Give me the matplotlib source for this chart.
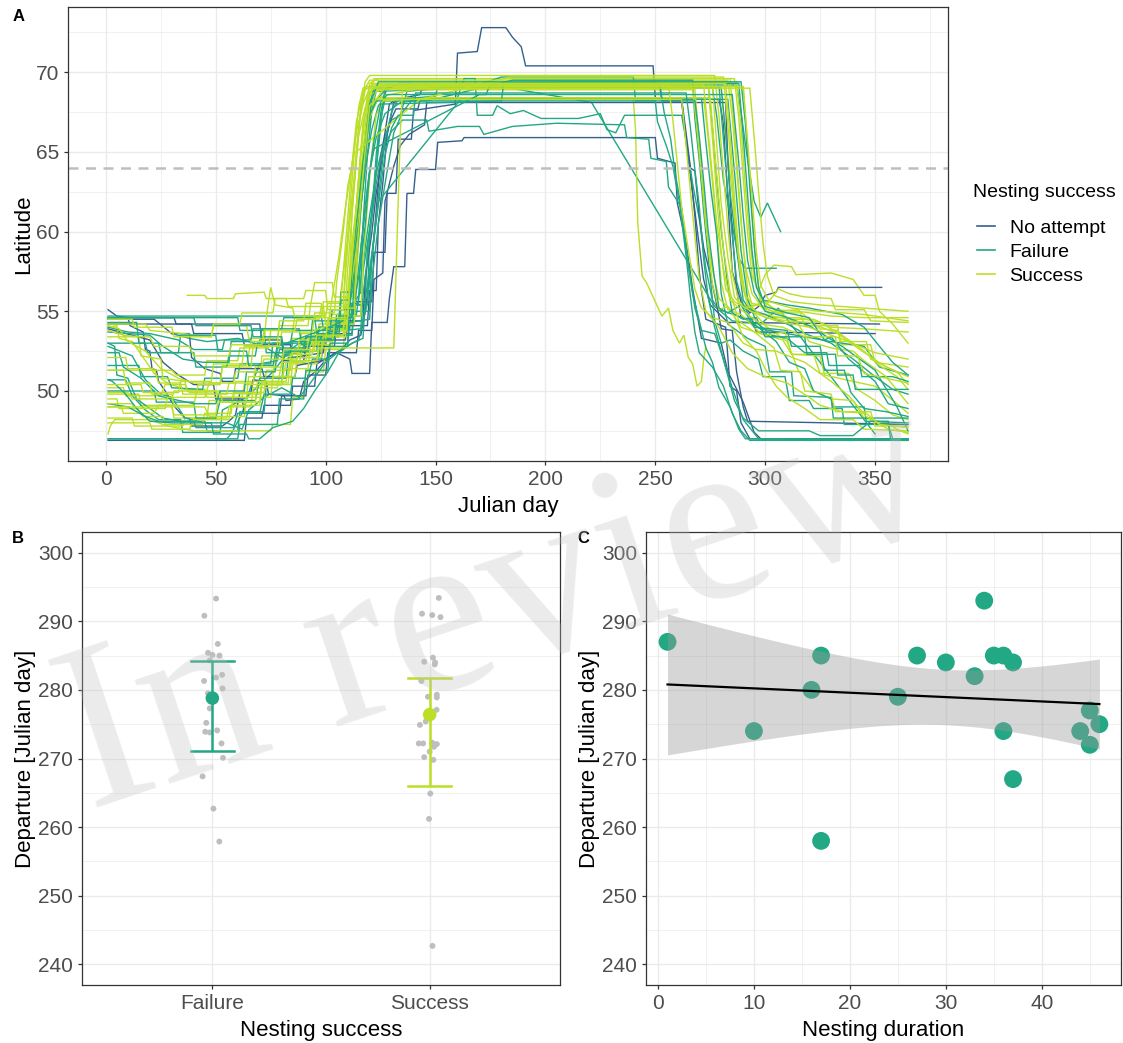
import numpy as np
import matplotlib.pyplot as plt
from matplotlib.lines import Line2D

plt.rcParams['font.family'] = ['Liberation Sans', 'DejaVu Sans']

group_names = ['No attempt', 'Failure', 'Success']
group_colors = ['#35608D', '#22A884', '#BBDF27']

# daily latitude tracks, (julian day, latitude) per bird
no_attempt_tracks = [
    [(1, 54.2), (39, 54.2), (40, 53.6), (62, 53.6), (63, 52.9), (84, 52.9), (85, 52.1), (99, 52.4), (100, 53.6), (112, 53.6), (113, 55.6), (121, 55.6), (122, 58.7), (127, 58.7), (128, 62.4), (132, 62.4), (133, 65.8), (139, 65.8), (140, 67.6), (159, 68.0), (160, 71.2), (169, 71.3), (171, 72.8), (182, 72.8), (185, 72.2), (189, 71.6), (191, 70.4), (249, 70.4), (250, 68.4), (262, 68.3), (263, 66.8), (266, 63.5), (269, 60.2), (272, 57.0), (275, 55.4), (283, 54.3), (352, 54.2)],
    [(1, 46.9), (63, 46.9), (64, 48.3), (71, 48.3), (72, 49.1), (84, 49.1), (85, 50.3), (95, 50.3), (96, 51.7), (105, 52.4), (111, 52.0), (112, 51.1), (120, 51.1), (121, 54.3), (128, 54.3), (129, 55.8), (131, 57.8), (136, 57.8), (137, 62.4), (140, 62.4), (141, 63.9), (150, 63.9), (151, 65.6), (162, 65.7), (163, 65.9), (250, 65.9), (251, 64.6), (259, 64.3), (260, 61.8), (264, 59.3), (267, 56.4), (271, 53.3), (280, 53.0), (283, 51.2), (290, 49.3), (295, 47.4), (298, 47.0), (365, 47.0)],
    [(1, 55.1), (5, 54.7), (10, 54.6), (11, 54.1), (17, 53.7), (18, 52.6), (20, 52.5), (21, 51.4), (23, 51.3), (24, 50.6), (27, 50.0), (30, 49.3), (32, 48.9), (36, 48.3), (38, 48.3), (39, 47.8), (53, 47.8), (56, 48.1), (59, 48.5), (61, 49.9), (66, 49.9), (67, 50.7), (73, 50.6), (74, 49.8), (81, 49.7), (82, 49.4), (88, 49.5), (90, 50.6), (96, 51.3), (101, 52.1), (107, 52.6), (111, 53.2), (116, 53.5), (118, 55.0), (121, 58.2), (123, 61.3), (125, 64.6), (127, 66.2), (129, 68.0), (132, 68.3), (279, 68.3), (281, 66.8), (283, 62.0), (285, 57.5), (289, 55.6), (293, 54.9), (297, 55.3), (300, 56.0), (305, 56.2), (306, 56.5), (353, 56.5)],
    [(1, 54.6), (31, 54.6), (32, 54.2), (70, 54.2), (71, 53.2), (80, 53.2), (81, 51.9), (90, 51.9), (91, 52.8), (104, 52.8), (105, 54.1), (119, 54.1), (120, 56.3), (123, 56.3), (124, 60.5), (126, 63.0), (128, 66.1), (131, 68.1), (136, 68.4), (143, 68.6), (144, 69.1), (252, 69.1), (253, 68.2), (262, 68.2), (264, 65.8), (266, 63.8), (268, 61.0), (270, 57.5), (271, 56.3), (273, 54.5), (282, 54.0), (284, 50.3), (287, 50.0), (289, 48.0), (293, 47.0), (365, 47.0)],
    [(1, 53.9), (12, 53.5), (20, 53.2), (26, 51.8), (33, 51.0), (40, 50.4), (49, 50.4), (50, 49.5), (62, 49.5), (63, 48.6), (79, 48.6), (80, 49.7), (91, 49.7), (92, 51.0), (100, 51.0), (101, 52.4), (114, 52.4), (115, 53.8), (121, 53.8), (122, 57.0), (126, 57.4), (127, 61.9), (131, 64.1), (134, 65.4), (138, 66.1), (145, 66.7), (146, 68.1), (282, 68.1), (283, 64.5), (285, 60.1), (287, 56.4), (289, 54.6), (294, 54.5), (296, 53.7), (350, 53.6)],
    [(1, 54.5), (22, 54.5), (30, 53.6), (38, 53.6), (39, 52.1), (45, 51.4), (52, 51.1), (53, 50.6), (58, 50.6), (59, 51.4), (71, 51.4), (72, 50.9), (86, 50.9), (87, 51.6), (98, 51.9), (99, 53.2), (109, 53.2), (110, 54.4), (117, 54.4), (118, 57.1), (121, 59.9), (123, 62.4), (126, 64.8), (129, 66.8), (132, 67.7), (142, 67.7), (143, 68.3), (262, 68.3), (264, 66.2), (266, 64.0), (268, 63.8), (270, 61.0), (272, 59.0), (275, 57.3), (278, 55.4), (280, 53.9), (285, 53.8), (287, 51.2), (290, 49.0), (292, 48.1), (365, 47.9)],
]

failure_tracks = [
    [(1, 47.0), (55, 47.0), (57, 47.3), (62, 48.6), (66, 50.3), (70, 51.7), (78, 51.9), (79, 52.6), (90, 52.6), (91, 53.3), (104, 53.3), (105, 54.8), (114, 54.8), (116, 57.0), (120, 61.0), (123, 63.6), (127, 66.0), (130, 67.0), (134, 67.3), (137, 68.8), (160, 69.1), (172, 69.3), (221, 68.1), (277, 55.3), (285, 54.4), (298, 54.2), (306, 55.2), (350, 47.3)],
    [(1, 53.0), (4, 52.8), (5, 51.0), (10, 50.8), (14, 49.5), (20, 48.9), (26, 48.3), (34, 48.1), (45, 48.1), (46, 47.5), (60, 47.5), (61, 48.7), (72, 48.7), (73, 50.4), (80, 50.4), (81, 52.3), (96, 52.5), (97, 54.0), (108, 54.0), (109, 55.4), (118, 55.4), (119, 59.0), (122, 62.5), (124, 65.2), (126, 67.9), (128, 69.2), (287, 69.2), (289, 67.5), (292, 64.5), (295, 61.9), (298, 60.9), (301, 61.8), (304, 60.9), (307, 60.0)],
    [(1, 50.7), (9, 50.7), (12, 49.7), (18, 48.8), (24, 48.2), (34, 48.2), (35, 47.4), (52, 47.4), (53, 48.8), (64, 49.6), (76, 51.2), (84, 52.6), (92, 53.4), (103, 53.6), (110, 54.9), (116, 56.2), (117, 60.5), (119, 64.8), (121, 67.5), (124, 68.4), (128, 69.0), (276, 69.0), (278, 67.2), (281, 63.2), (285, 60.4), (288, 58.3), (291, 57.7), (305, 57.7)],
    [(1, 54.7), (98, 54.7), (99, 53.9), (111, 53.9), (112, 55.4), (119, 55.4), (120, 59.8), (123, 63.0), (126, 65.2), (130, 66.3), (135, 67.0), (146, 67.0), (147, 66.3), (160, 66.6), (170, 66.6), (172, 66.1), (185, 66.6), (205, 66.8), (236, 66.7), (237, 65.9), (247, 65.8), (248, 64.6), (255, 64.4), (256, 62.8), (262, 61.5), (265, 58.0), (268, 55.2), (271, 53.8), (277, 53.6), (280, 52.4), (285, 50.2), (290, 48.2), (297, 47.0), (365, 46.9)],
    [(30, 53.6), (38, 53.3), (46, 53.1), (60, 53.3), (72, 52.8), (80, 52.1), (88, 52.5), (96, 53.1), (104, 53.9), (113, 54.3), (114, 56.5), (117, 60.1), (120, 63.8), (123, 65.9), (127, 67.4), (134, 68.1), (150, 68.4), (160, 68.4), (163, 69.6), (168, 69.6), (169, 67.3), (176, 67.3), (178, 67.9), (184, 67.4), (190, 67.6), (198, 67.1), (215, 67.1), (225, 67.4), (228, 66.4), (232, 66.2), (236, 67.3), (262, 67.3), (264, 65.7), (267, 63.0), (270, 60.8), (273, 57.7), (276, 55.7), (279, 55.1), (290, 54.6), (298, 53.9), (330, 53.1), (345, 52.8), (352, 51.5), (365, 51.0)],
    [(1, 54.6), (60, 54.6), (61, 53.8), (72, 53.8), (73, 52.4), (84, 52.4), (85, 53.1), (96, 53.1), (97, 54.0), (110, 54.0), (111, 55.3), (114, 58.6), (116, 62.2), (118, 65.6), (120, 68.0), (122, 69.0), (280, 69.0), (282, 66.2), (284, 62.5), (287, 58.9), (290, 55.7), (293, 55.1), (300, 54.8), (310, 54.2), (318, 53.6), (330, 53.0), (340, 52.0), (350, 50.9), (358, 50.1), (365, 49.8)],
    [(1, 52.8), (12, 52.2), (18, 50.7), (25, 49.8), (30, 49.6), (36, 48.3), (45, 48.0), (55, 48.0), (62, 47.6), (65, 48.8), (72, 49.6), (80, 50.2), (88, 49.6), (92, 50.3), (100, 51.8), (108, 52.7), (115, 53.2), (119, 55.5), (121, 58.3), (124, 61.9), (162, 68.4), (271, 68.4), (273, 65.6), (275, 63.0), (278, 59.7), (280, 56.1), (283, 54.2), (292, 53.3), (300, 52.8), (302, 51.2), (312, 51.2), (313, 49.7), (330, 49.6), (331, 48.3), (355, 48.3), (365, 48.3)],
    [(1, 51.6), (15, 51.6), (16, 50.9), (28, 50.9), (30, 50.2), (44, 50.1), (45, 50.8), (60, 50.8), (61, 51.7), (75, 51.7), (76, 53.0), (93, 53.0), (94, 54.4), (106, 54.4), (107, 56.2), (113, 56.2), (114, 59.2), (117, 62.7), (119, 66.0), (121, 67.7), (123, 68.8), (165, 69.0), (180, 69.7), (240, 69.7), (241, 68.2), (250, 68.2), (251, 66.9), (255, 65.4), (258, 64.1), (261, 61.8), (264, 58.5), (266, 55.9), (268, 53.7), (270, 52.4), (276, 51.5), (281, 50.3), (285, 48.6), (289, 47.5), (293, 46.9), (365, 46.9)],
    [(1, 53.7), (20, 53.5), (26, 52.8), (35, 52.0), (44, 51.8), (56, 51.8), (57, 53.1), (70, 53.1), (71, 53.9), (88, 53.9), (89, 52.9), (100, 52.9), (101, 53.7), (116, 53.9), (117, 56.0), (120, 59.5), (123, 64.0), (125, 67.0), (127, 68.3), (283, 68.3), (286, 63.8), (289, 58.8), (292, 55.8), (296, 54.3), (303, 53.5), (310, 53.3), (318, 52.4), (328, 52.4), (329, 51.6), (343, 51.6), (344, 50.9), (358, 50.9), (365, 50.6)],
    [(1, 50.0), (22, 50.0), (23, 49.3), (40, 49.3), (41, 48.3), (50, 48.3), (52, 49.4), (68, 49.4), (70, 50.8), (82, 50.8), (83, 52.1), (97, 52.1), (98, 53.5), (112, 53.5), (113, 55.0), (120, 55.0), (121, 58.3), (124, 62.2), (127, 65.7), (130, 67.5), (133, 68.3), (150, 68.5), (151, 69.1), (279, 69.1), (281, 65.8), (283, 62.5), (285, 59.8), (287, 56.9), (290, 55.4), (295, 54.2), (305, 53.1), (311, 51.8), (318, 51.4), (322, 50.0), (330, 49.5), (331, 49.0), (345, 49.0), (346, 48.1), (365, 48.0)],
    [(1, 47.0), (60, 47.0), (61, 47.9), (78, 47.9), (79, 49.5), (90, 49.5), (91, 51.3), (101, 51.3), (102, 52.8), (110, 52.8), (111, 54.3), (120, 54.5), (121, 56.8), (124, 60.5), (128, 63.8), (131, 66.2), (135, 67.5), (139, 68.2), (146, 68.2), (185, 69.5), (267, 69.5), (268, 67.1), (270, 64.5), (272, 61.3), (275, 57.1), (277, 54.4), (280, 53.0), (284, 53.2), (290, 52.5), (297, 52.0), (299, 50.9), (309, 50.9), (311, 49.4), (320, 49.4), (322, 48.9), (335, 48.9), (336, 47.9), (356, 47.9), (358, 47.0), (365, 47.0)],
    [(1, 54.0), (10, 53.7), (20, 53.6), (33, 53.2), (40, 52.6), (53, 52.6), (54, 53.2), (66, 53.2), (67, 53.9), (80, 53.9), (81, 54.6), (95, 54.6), (96, 53.6), (105, 53.6), (106, 54.7), (116, 54.7), (117, 57.5), (121, 61.0), (123, 64.8), (125, 67.4), (127, 68.9), (133, 69.3), (288, 69.3), (290, 66.0), (292, 62.3), (294, 58.8), (296, 56.5), (299, 55.7), (310, 55.4), (320, 55.2), (335, 54.8), (345, 54.0), (352, 52.8), (358, 51.8), (365, 51.0)],
    [(1, 54.3), (14, 54.3), (15, 53.0), (24, 53.0), (25, 52.4), (40, 52.4), (41, 51.5), (55, 51.5), (56, 52.2), (68, 52.2), (69, 53.0), (84, 53.0), (85, 53.8), (102, 53.8), (103, 55.1), (111, 55.1), (112, 57.6), (115, 60.5), (118, 63.9), (121, 66.4), (124, 67.9), (128, 68.6), (173, 68.6), (175, 69.3), (274, 69.3), (276, 66.5), (278, 63.2), (280, 60.1), (283, 56.6), (285, 54.9), (290, 54.5), (296, 54.6), (300, 53.4), (318, 53.4), (319, 52.3), (332, 52.3), (333, 51.0), (340, 51.0), (341, 50.1), (365, 50.1)],
    [(1, 52.4), (6, 52.4), (8, 51.5), (16, 50.8), (24, 49.7), (30, 49.5), (40, 49.2), (50, 49.2), (52, 50.0), (63, 50.0), (64, 51.2), (77, 51.2), (78, 52.7), (90, 52.7), (91, 53.4), (106, 53.4), (107, 55.7), (111, 55.7), (112, 58.1), (115, 61.7), (117, 64.4), (120, 67.3), (123, 68.2), (268, 68.2), (270, 66.0), (272, 63.2), (274, 60.1), (277, 57.0), (279, 55.2), (283, 54.9), (289, 55.4), (295, 54.0), (310, 53.8), (312, 52.8), (325, 52.8), (327, 51.3), (336, 51.3), (339, 49.9), (345, 48.9), (355, 48.7), (365, 48.4)],
    [(1, 53.0), (18, 53.0), (19, 52.4), (33, 52.4), (34, 53.5), (50, 53.5), (51, 52.5), (64, 52.5), (65, 51.6), (76, 51.6), (78, 52.8), (90, 53.4), (100, 53.9), (108, 54.4), (112, 54.7), (114, 56.3), (116, 58.0), (118, 60.4), (120, 63.7), (122, 65.2), (170, 68.6), (285, 68.6), (288, 64.3), (290, 61.0), (292, 58.2), (295, 56.2), (300, 55.0), (308, 54.7), (320, 54.1), (335, 52.8), (350, 51.3), (360, 49.0), (365, 47.5)],
    [(1, 49.2), (10, 49.0), (18, 48.4), (24, 48.1), (40, 48.1), (41, 47.7), (58, 47.7), (60, 48.6), (70, 48.6), (72, 49.8), (84, 49.8), (85, 50.8), (92, 50.8), (94, 52.0), (101, 52.0), (102, 53.0), (110, 53.0), (111, 55.5), (115, 55.5), (116, 59.0), (119, 62.8), (122, 65.7), (125, 68.0), (180, 68.2), (181, 69.3), (252, 69.3), (254, 67.5), (257, 65.8), (259, 63.7), (262, 61.4), (264, 58.7), (267, 56.1), (270, 54.4), (273, 52.7), (276, 51.8), (279, 50.2), (284, 49.0), (288, 47.6), (291, 47.0), (365, 47.0)],
    [(1, 54.6), (40, 54.6), (41, 54.1), (66, 54.1), (67, 53.4), (80, 53.4), (81, 52.5), (92, 52.5), (93, 53.2), (104, 53.2), (105, 54.6), (112, 54.6), (113, 56.8), (115, 59.7), (117, 63.1), (119, 66.2), (121, 68.3), (124, 69.4), (289, 69.4), (291, 66.8), (293, 62.8), (295, 59.1), (297, 56.5), (300, 55.3), (310, 54.9), (320, 54.6), (327, 53.2), (330, 53.4), (338, 52.0), (350, 50.6), (356, 49.2), (365, 48.9)],
    [(1, 50.7), (3, 50.6), (9, 49.8), (14, 48.9), (20, 48.1), (30, 48.0), (48, 48.0), (49, 47.3), (64, 47.3), (65, 47.0), (70, 47.0), (76, 47.7), (85, 48.1), (90, 48.9), (95, 50.0), (101, 51.2), (106, 52.4), (112, 53.0), (117, 53.3), (118, 55.7), (121, 58.6), (124, 61.7), (127, 64.8), (130, 66.5), (133, 67.3), (140, 67.3), (141, 68.7), (264, 68.7), (266, 66.5), (268, 63.9), (270, 61.6), (272, 58.3), (274, 55.9), (277, 54.0), (281, 52.0), (286, 49.4), (290, 48.3), (297, 47.5), (320, 47.5), (325, 47.2), (340, 47.2), (348, 48.1), (356, 48.1), (357, 47.0), (365, 47.0)],
]

success_tracks = [
    [(1, 49.8), (15, 49.8), (16, 49.1), (30, 49.1), (31, 48.3), (46, 48.3), (47, 49.4), (58, 49.4), (59, 50.6), (70, 50.6), (71, 52.2), (84, 52.2), (85, 53.3), (96, 53.3), (97, 54.2), (106, 54.2), (107, 56.3), (110, 59.5), (113, 63.1), (115, 66.0), (118, 67.8), (121, 68.3), (240, 68.3), (241, 66.4), (242, 60.6), (244, 57.2), (246, 56.8), (250, 55.6), (253, 54.7), (256, 55.2), (258, 53.8), (261, 53.0), (263, 53.5), (265, 52.1), (267, 51.7), (269, 50.3), (271, 50.6), (272, 52.0), (273, 52.8)],
    [(37, 56.0), (45, 56.0), (46, 55.8), (58, 55.8), (59, 56.1), (72, 56.2), (73, 55.8), (82, 55.8), (83, 55.3), (93, 55.3), (95, 56.8), (103, 56.8), (104, 55.9), (112, 55.9), (114, 58.5), (116, 62.6), (118, 66.1), (120, 68.4), (122, 69.6), (286, 69.6), (288, 67.1), (290, 63.4), (292, 59.9), (294, 57.2), (297, 56.3), (300, 57.3), (304, 57.9), (312, 57.8), (314, 57.3), (330, 57.4), (340, 57.0), (345, 56.0), (350, 56.0), (352, 55.0), (358, 54.2), (365, 53.0)],
    [(1, 47.3), (2, 47.8), (4, 48.2), (20, 48.2), (28, 47.8), (40, 47.5), (75, 47.5), (76, 47.9), (84, 47.9), (85, 49.6), (90, 49.6), (91, 51.2), (99, 51.2), (100, 52.6), (108, 52.6), (109, 54.5), (112, 56.6), (114, 60.2), (116, 63.5), (118, 66.6), (120, 68.6), (123, 69.0), (280, 69.0), (282, 66.0), (285, 62.4), (287, 59.2), (290, 56.5), (293, 55.3), (300, 55.6), (305, 55.0), (315, 55.1), (325, 53.9), (333, 53.8), (335, 52.9), (348, 52.9), (350, 51.8), (365, 51.5)],
    [(1, 50.2), (8, 50.2), (9, 49.7), (25, 49.7), (27, 50.4), (36, 50.4), (38, 49.9), (70, 49.8), (71, 50.4), (84, 50.4), (85, 51.7), (96, 51.7), (97, 53.4), (106, 53.4), (107, 55.1), (111, 55.1), (112, 58.2), (114, 61.7), (116, 64.9), (118, 67.4), (120, 69.3), (124, 69.6), (284, 69.6), (286, 66.4), (288, 62.7), (290, 59.0), (292, 56.4), (295, 54.9), (300, 54.1), (310, 53.1), (315, 51.3), (322, 50.0), (330, 49.5), (340, 49.4), (345, 48.3), (355, 48.0), (360, 47.6), (365, 47.3)],
    [(1, 54.0), (5, 54.1), (6, 53.3), (12, 53.1), (16, 52.3), (22, 51.1), (28, 50.5), (36, 50.1), (45, 50.1), (46, 49.6), (64, 49.6), (65, 50.9), (76, 50.9), (77, 52.4), (88, 52.4), (89, 53.6), (101, 53.6), (102, 54.8), (110, 54.8), (111, 57.5), (112, 61.2), (114, 64.7), (116, 67.8), (118, 69.4), (120, 69.8), (277, 69.8), (279, 67.2), (281, 63.7), (283, 60.3), (285, 57.4), (288, 55.6), (295, 55.0), (305, 54.6), (315, 54.6), (325, 54.3), (335, 53.5), (345, 52.5), (352, 51.6), (360, 50.9), (365, 50.1)],
    [(1, 48.3), (12, 48.3), (13, 47.8), (35, 47.8), (36, 48.3), (55, 48.3), (56, 49.0), (66, 49.0), (67, 50.2), (78, 50.2), (80, 51.8), (88, 51.8), (90, 53.0), (100, 53.0), (101, 54.3), (109, 54.3), (110, 56.1), (112, 59.3), (115, 62.8), (118, 65.6), (121, 67.6), (124, 68.4), (272, 68.4), (274, 65.9), (276, 63.1), (278, 60.0), (280, 56.8), (283, 55.1), (289, 54.8), (298, 53.6), (308, 53.2), (312, 52.3), (322, 52.3), (325, 51.1), (338, 51.1), (342, 50.1), (350, 49.4), (358, 48.5), (365, 48.2)],
    [(1, 51.3), (30, 51.3), (32, 51.0), (45, 51.0), (46, 51.9), (60, 51.9), (61, 52.7), (74, 52.7), (75, 53.8), (85, 53.8), (86, 54.7), (100, 54.7), (101, 55.5), (108, 55.5), (109, 57.2), (111, 60.7), (113, 63.5), (115, 66.6), (118, 68.9), (122, 69.2), (276, 69.2), (278, 65.4), (280, 61.7), (283, 58.4), (286, 55.9), (290, 55.2), (297, 55.4), (305, 54.9), (316, 54.9), (318, 54.1), (333, 54.1), (334, 53.1), (346, 53.1), (348, 52.0), (360, 51.2), (365, 50.4)],
    [(1, 49.5), (5, 49.5), (6, 48.9), (14, 48.9), (17, 48.4), (26, 48.4), (27, 47.9), (44, 47.9), (45, 48.6), (57, 48.6), (58, 49.9), (72, 49.9), (73, 51.3), (84, 51.3), (85, 52.5), (98, 52.5), (99, 53.9), (108, 53.9), (109, 55.8), (113, 55.8), (114, 59.7), (116, 63.0), (118, 65.8), (121, 67.9), (126, 68.9), (135, 69.1), (290, 69.1), (292, 65.4), (294, 61.1), (296, 57.7), (298, 55.3), (303, 54.7), (312, 54.5), (322, 54.5), (330, 54.0), (345, 53.9), (355, 53.8), (365, 53.7)],
    [(1, 54.2), (18, 54.2), (20, 53.8), (35, 53.6), (48, 53.4), (49, 54.1), (64, 54.1), (65, 53.3), (78, 53.3), (79, 54.1), (92, 54.1), (93, 55.3), (99, 55.3), (100, 54.2), (110, 54.2), (111, 56.0), (114, 59.2), (116, 62.5), (118, 65.4), (120, 67.1), (123, 68.2), (126, 68.5), (150, 69.2), (210, 69.4), (287, 69.4), (289, 66.6), (291, 62.8), (293, 59.5), (295, 57.0), (298, 55.7), (305, 55.1), (315, 55.0), (330, 54.7), (345, 54.6), (365, 54.6)],
    [(1, 49.0), (7, 49.0), (8, 48.6), (22, 48.6), (24, 49.1), (40, 49.1), (42, 50.4), (52, 50.4), (53, 51.6), (64, 51.6), (66, 53.1), (72, 53.1), (73, 54.6), (75, 56.5), (77, 55.4), (85, 55.2), (86, 54.6), (98, 54.6), (99, 55.6), (107, 55.6), (108, 57.4), (110, 60.8), (112, 64.2), (114, 66.9), (117, 68.7), (120, 69.5), (283, 69.5), (285, 67.2), (287, 64.0), (289, 60.6), (291, 57.8), (294, 56.1), (299, 55.2), (308, 54.8), (315, 54.2), (320, 53.1), (330, 52.7), (340, 52.5), (345, 51.9), (355, 50.9), (365, 49.2)],
    [(1, 49.9), (10, 49.9), (12, 49.5), (30, 49.5), (31, 50.0), (50, 50.0), (51, 49.6), (62, 49.6), (63, 50.4), (80, 50.4), (81, 51.4), (92, 51.4), (93, 52.9), (103, 52.9), (104, 53.8), (110, 53.8), (111, 56.2), (113, 59.6), (115, 63.4), (117, 66.8), (120, 68.6), (127, 69.0), (267, 69.0), (269, 66.4), (271, 63.5), (273, 60.4), (276, 57.6), (279, 55.8), (285, 55.0), (290, 53.4), (296, 52.5), (300, 51.4), (305, 50.3), (310, 49.6), (318, 48.9), (325, 48.2), (340, 48.2), (345, 47.6), (365, 47.5)],
    [(1, 53.8), (8, 53.5), (15, 53.4), (16, 52.2), (25, 52.0), (26, 50.8), (36, 50.6), (37, 50.0), (52, 50.0), (53, 49.3), (70, 49.3), (71, 50.6), (80, 50.6), (82, 51.8), (91, 51.8), (92, 53.1), (103, 53.1), (104, 54.2), (113, 54.2), (114, 57.1), (116, 61.3), (118, 64.6), (120, 67.5), (123, 68.9), (268, 68.9), (270, 65.7), (272, 62.4), (274, 59.2), (276, 56.7), (279, 55.1), (283, 55.3), (289, 54.0), (300, 53.5), (309, 53.7), (312, 52.3), (325, 52.2), (327, 51.0), (340, 50.6), (350, 50.3), (360, 49.2), (365, 48.6)],
    [(1, 48.0), (20, 48.0), (21, 47.6), (38, 47.6), (40, 48.2), (56, 48.2), (57, 49.1), (70, 49.1), (71, 50.5), (83, 50.5), (84, 52.3), (94, 52.3), (95, 53.8), (101, 54.1), (103, 55.9), (106, 58.4), (109, 61.5), (112, 64.2), (114, 66.3), (117, 68.0), (121, 69.3), (282, 69.3), (284, 66.1), (286, 62.2), (288, 58.6), (291, 56.0), (294, 55.5), (300, 55.3), (306, 56.4), (311, 56.1), (318, 55.9), (330, 55.8), (332, 55.1), (345, 55.1), (348, 54.4), (365, 54.3)],
    [(1, 51.3), (8, 51.3), (9, 50.5), (20, 50.5), (21, 49.8), (30, 49.8), (31, 49.0), (45, 49.0), (47, 48.4), (63, 48.4), (64, 49.6), (75, 49.6), (76, 50.9), (86, 50.9), (87, 52.1), (98, 52.1), (99, 53.4), (109, 53.4), (110, 54.7), (116, 54.7), (117, 58.0), (119, 61.6), (121, 64.9), (123, 67.3), (126, 68.2), (150, 68.4), (275, 68.4), (277, 65.1), (279, 61.9), (281, 58.9), (284, 56.2), (288, 54.4), (296, 53.6), (304, 52.7), (307, 51.3), (316, 51.2), (318, 50.0), (330, 49.8), (332, 48.7), (348, 48.7), (350, 47.8), (365, 47.8)],
    [(1, 54.1), (6, 53.9), (10, 53.1), (18, 52.5), (25, 51.4), (33, 50.8), (40, 50.5), (52, 50.5), (53, 51.5), (66, 51.5), (67, 52.8), (79, 52.8), (80, 53.7), (94, 53.7), (95, 54.9), (104, 54.9), (105, 56.8), (108, 60.0), (110, 62.8), (113, 64.9), (143, 68.3), (184, 69.7), (281, 69.7), (283, 66.7), (285, 63.1), (287, 59.6), (289, 56.9), (292, 55.4), (300, 54.6), (310, 54.4), (320, 54.3), (333, 53.6), (343, 52.6), (355, 51.5), (365, 50.9)],
    [(1, 49.2), (12, 49.2), (13, 48.9), (27, 48.9), (28, 49.6), (45, 49.6), (47, 50.5), (58, 50.5), (59, 51.2), (70, 51.2), (72, 52.0), (87, 52.0), (88, 53.2), (100, 53.2), (101, 54.5), (110, 54.5), (111, 56.5), (113, 59.9), (115, 63.2), (117, 66.4), (119, 68.6), (123, 69.2), (256, 69.2), (258, 67.0), (260, 64.3), (262, 61.5), (265, 58.9), (268, 56.4), (271, 55.2), (276, 54.6), (283, 54.3), (290, 53.0), (296, 52.6), (305, 52.5), (318, 51.8), (330, 50.6), (338, 49.7), (346, 48.4), (356, 47.6), (365, 47.4)],
    [(1, 53.4), (20, 53.4), (22, 52.8), (38, 52.8), (40, 52.2), (56, 52.2), (57, 52.9), (71, 52.9), (72, 53.8), (86, 53.8), (87, 54.5), (97, 54.5), (98, 55.3), (109, 55.3), (110, 57.6), (112, 61.0), (114, 64.5), (116, 67.7), (118, 69.1), (290, 69.1), (292, 65.6), (294, 62.3), (296, 58.7), (298, 56.6), (302, 55.6), (312, 55.2), (325, 55.0), (345, 54.8), (360, 54.5), (365, 54.4)],
    [(1, 52.1), (9, 52.1), (10, 51.4), (22, 51.4), (24, 50.5), (34, 50.5), (35, 49.8), (55, 49.8), (56, 50.5), (67, 50.5), (68, 51.5), (80, 51.5), (81, 52.6), (95, 52.6), (96, 53.5), (108, 53.5), (109, 55.2), (113, 55.2), (114, 58.3), (116, 61.9), (118, 65.1), (120, 67.9), (123, 68.3), (262, 68.3), (264, 65.4), (266, 62.5), (268, 59.7), (270, 57.1), (273, 55.0), (279, 54.0), (285, 52.4), (292, 51.4), (300, 50.9), (310, 50.5), (320, 49.6), (325, 49.1), (335, 48.7), (346, 48.6), (352, 47.9), (365, 47.7)],
    [(1, 50.4), (16, 50.4), (17, 49.9), (33, 49.9), (34, 50.6), (48, 50.6), (49, 51.7), (62, 51.7), (63, 52.8), (78, 52.8), (79, 54.4), (90, 54.4), (91, 55.5), (98, 55.5), (99, 54.6), (110, 54.6), (111, 56.6), (113, 60.1), (115, 63.0), (117, 66.5), (120, 68.8), (125, 69.2), (272, 69.2), (274, 66.3), (276, 63.5), (278, 60.5), (281, 57.7), (284, 55.7), (290, 55.0), (298, 54.2), (308, 54.0), (318, 53.4), (332, 53.4), (333, 52.2), (342, 52.2), (345, 51.1), (355, 50.8), (365, 50.5)],
    [(1, 54.5), (12, 54.5), (13, 54.0), (30, 54.0), (31, 53.4), (48, 53.4), (49, 54.2), (61, 54.2), (62, 54.9), (76, 54.9), (77, 55.8), (90, 55.8), (91, 56.3), (100, 56.3), (101, 55.1), (108, 55.1), (109, 57.9), (111, 61.4), (113, 64.9), (115, 67.8), (117, 69.0), (293, 69.0), (295, 65.9), (297, 62.5), (299, 59.3), (301, 57.2), (304, 56.0), (312, 55.6), (325, 55.4), (345, 55.2), (365, 55.0)],
    [(1, 49.0), (30, 49.0), (31, 48.5), (50, 48.5), (51, 49.3), (68, 49.3), (69, 50.6), (82, 50.6), (84, 51.9), (96, 51.9), (97, 52.7), (131, 52.7), (132, 57.2), (133, 61.8), (134, 66.3), (135, 69.0), (140, 69.3), (274, 69.3), (276, 65.9), (278, 62.1), (280, 58.6), (282, 56.4), (286, 55.6), (295, 54.9), (305, 54.4), (320, 54.0), (336, 53.2), (350, 52.4), (365, 52.0)],
]

breeding_lat = 64

# departure day by nesting outcome
outcome_labels = ['Failure', 'Success']
failure_departure = [293.3, 290.8, 286.7, 285.4, 285.1, 285.0, 284.3, 282.2, 281.8, 281.3, 280.2,
                     279.5, 277.3, 275.2, 274.1, 273.9, 273.8, 272.2, 270.1, 267.4, 262.7, 257.9]
failure_jitter = [0.017, -0.037, 0.025, -0.020, 0.0, 0.033, -0.012, 0.045, 0.017, -0.038, 0.047,
                  -0.020, -0.012, -0.028, 0.022, -0.033, -0.012, 0.042, 0.049, -0.045, 0.005, 0.032]
success_departure = [293.4, 291.1, 290.9, 290.6, 284.7, 284.1, 284.0, 283.7, 281.3, 279.0, 279.3, 278.9, 277.1,
                     275.4, 274.9, 272.2, 272.2, 272.3, 272.1, 271.7, 271.0, 270.2, 269.8, 264.9, 261.2, 242.7]
success_jitter = [0.042, -0.035, 0.012, 0.050, 0.015, -0.025, 0.025, 0.023, -0.038, -0.008, 0.033, 0.033, 0.032,
                  -0.018, -0.045, -0.050, -0.030, 0.012, 0.033, 0.020, 0.0, -0.025, 0.017, 0.003, -0.003, 0.013]
outcome_mean = [278.8, 276.4]
outcome_lower = [271.1, 266.0]
outcome_upper = [284.2, 281.8]

# departure day against nesting duration
nest_duration = [1, 10, 16, 17, 17, 25, 27, 30, 33, 34, 35, 36, 37, 36, 37, 44, 45, 45, 46]
duration_departure = [287, 274, 280, 285, 258, 279, 285, 284, 282, 293, 285, 285, 284, 274, 267, 274, 277, 272, 275]

TICK_COLOR = '#4D4D4D'
GRID_COLOR = '#EBEBEB'


def style_axes(ax):
    for side in ax.spines.values():
        side.set_color('#333333')
        side.set_linewidth(0.9)
    ax.tick_params(which='major', length=2.75, width=0.9, color='#333333',
                   labelsize=15, labelcolor=TICK_COLOR, pad=3.5)
    ax.tick_params(which='minor', length=0)
    ax.grid(which='major', color=GRID_COLOR, lw=1.0)
    ax.grid(which='minor', color=GRID_COLOR, lw=0.5)
    ax.set_axisbelow(True)


fig = plt.figure(figsize=(11.23, 10.43), dpi=100)

# ---- A: latitude tracks through the year
ax_a = fig.add_axes([0.0606, 0.558, 0.7836, 0.4353])
groups = [no_attempt_tracks, failure_tracks, success_tracks]
order = []
for i in range(max(len(g) for g in groups)):
    for gi, g in enumerate(groups):
        if i < len(g):
            order.append((gi, g[i]))
for gi, track in order:
    days = [p[0] for p in track]
    lats = [p[1] for p in track]
    ax_a.plot(days, lats, color=group_colors[gi], lw=1.0, solid_joinstyle='miter')

ax_a.axhline(breeding_lat, color='#BEBEBE', lw=1.8, ls=(0, (4, 3)))
ax_a.set_xticks(np.arange(0, 351, 50))
ax_a.set_xticks(np.arange(25, 376, 50), minor=True)
ax_a.set_yticks(np.arange(50, 71, 5))
ax_a.set_yticks(np.arange(47.5, 75, 5), minor=True)
ax_a.set_xlabel('Julian day', fontsize=16, labelpad=5)
ax_a.set_ylabel('Latitude', fontsize=16, labelpad=1.5)
style_axes(ax_a)

handles = [Line2D([], [], color=c, lw=1.2) for c in group_colors]
fig.text(0.8664, 0.815, 'Nesting success', fontsize=14, ha='left', va='center')
fig.legend(handles, group_names, loc='upper left',
           bbox_to_anchor=(0.854, 0.8063), frameon=False, fontsize=14,
           handlelength=0.93, handletextpad=0.77, labelspacing=0.32)

# ---- B: departure by nesting success
ax_b = fig.add_axes([0.0730, 0.0556, 0.4257, 0.4343])
for k, (deps, jit) in enumerate([(failure_departure, failure_jitter),
                                 (success_departure, success_jitter)]):
    xs = [k + 1 + j for j in jit]
    ax_b.scatter(xs, deps, s=18, color='#BEBEBE', edgecolors='none', zorder=2)
    col = group_colors[k + 1]
    ax_b.errorbar([k + 1], [outcome_mean[k]],
                  yerr=[[outcome_mean[k] - outcome_lower[k]], [outcome_upper[k] - outcome_mean[k]]],
                  fmt='none', ecolor=col, elinewidth=1.8, capsize=0, zorder=3)
    ax_b.plot([k + 0.9, k + 1.1], [outcome_upper[k]] * 2, color=col, lw=1.8, zorder=3)
    ax_b.plot([k + 0.9, k + 1.1], [outcome_lower[k]] * 2, color=col, lw=1.8, zorder=3)
    ax_b.scatter([k + 1], [outcome_mean[k]], s=95, color=col, edgecolors='none', zorder=4)
ax_b.set_xlim(0.4, 2.6)
ax_b.set_ylim(237, 303)
ax_b.set_xticks([1, 2])
ax_b.set_xticklabels(outcome_labels)
ax_b.set_yticks(np.arange(240, 301, 10))
ax_b.set_yticks(np.arange(245, 300, 10), minor=True)
ax_b.set_xlabel('Nesting success', fontsize=16, labelpad=5)
ax_b.set_ylabel('Departure [Julian day]', fontsize=16, labelpad=1.5)
style_axes(ax_b)

# ---- C: departure against nesting duration with linear fit
ax_c = fig.add_axes([0.5752, 0.0556, 0.423, 0.4343])
dur = np.array(nest_duration, dtype=float)
dep = np.array(duration_departure, dtype=float)
ax_c.scatter(dur, dep, s=165, color=group_colors[1], edgecolors='none', zorder=2)

slope, intercept = np.polyfit(dur, dep, 1)
n = len(dur)
resid = dep - (slope * dur + intercept)
s_err = np.sqrt(np.sum(resid ** 2) / (n - 2))
sxx = np.sum((dur - dur.mean()) ** 2)
xfit = np.linspace(dur.min(), dur.max(), 80)
yfit = slope * xfit + intercept
t_crit = 2.1098  # t(0.975, df=17)
half = t_crit * s_err * np.sqrt(1 / n + (xfit - dur.mean()) ** 2 / sxx)
ax_c.fill_between(xfit, yfit - half, yfit + half, color='#999999', alpha=0.4,
                  lw=0, zorder=3)
ax_c.plot(xfit, yfit, color='black', lw=1.6, zorder=4)
ax_c.set_ylim(237, 303)
ax_c.set_xticks(np.arange(0, 41, 10))
ax_c.set_xticks(np.arange(5, 50, 10), minor=True)
ax_c.set_yticks(np.arange(240, 301, 10))
ax_c.set_yticks(np.arange(245, 300, 10), minor=True)
ax_c.set_xlabel('Nesting duration', fontsize=16, labelpad=5)
ax_c.set_ylabel('Departure [Julian day]', fontsize=16, labelpad=1.5)
style_axes(ax_c)

for label, x, y in [('A', 0.011, 0.984), ('B', 0.011, 0.484), ('C', 0.514, 0.484)]:
    fig.text(x, y, label, fontsize=12, fontweight='bold', ha='left', va='center')

# review watermark over the whole figure
fig.text(0.080, 0.223, 'In review', fontsize=171, family=['Liberation Serif', 'DejaVu Serif'],
         color='#BFBFBF', alpha=0.3, rotation=18.5, rotation_mode='anchor',
         ha='left', va='baseline', zorder=10)

fig.savefig('out.png', dpi=100)
